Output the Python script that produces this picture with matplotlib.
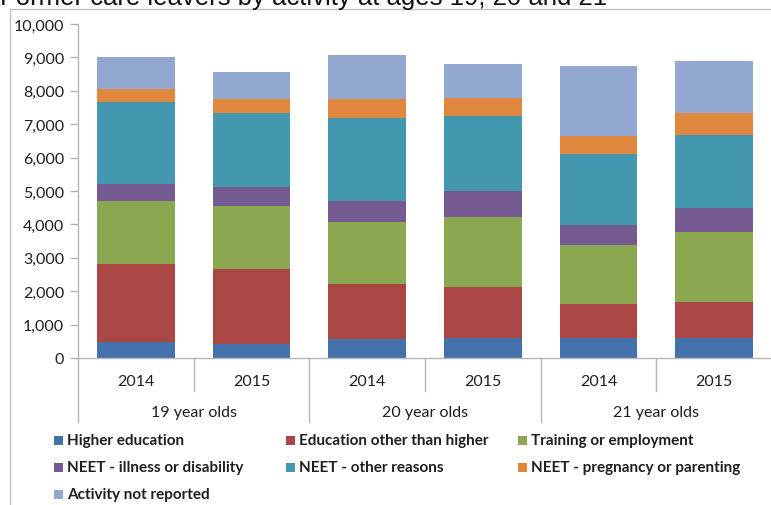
import matplotlib
matplotlib.use("Agg")
import matplotlib.pyplot as plt
import matplotlib.transforms as mtransforms
from matplotlib.patches import Rectangle
from matplotlib.lines import Line2D
import numpy as np

# bars: 19, 20, 21 year olds, 2014 and 2015 each
years = ["2014", "2015", "2014", "2015", "2014", "2015"]
groups = ["19 year olds", "20 year olds", "21 year olds"]

activities = ["Higher education", "Education other than higher", "Training or employment",
              "NEET - illness or disability", "NEET - other reasons",
              "NEET - pregnancy or parenting", "Activity not reported"]

higher_ed = [470, 430, 570, 600, 600, 600]
other_ed = [2340, 2220, 1640, 1520, 1030, 1070]
training = [1880, 1890, 1870, 2100, 1740, 2100]
neet_ill = [510, 570, 610, 780, 600, 730]
neet_other = [2460, 2220, 2500, 2260, 2140, 2190]
neet_preg = [380, 430, 560, 520, 550, 660]
not_reported = [960, 810, 1330, 1020, 2070, 1550]

series = [higher_ed, other_ed, training, neet_ill, neet_other, neet_preg, not_reported]
colors = ["#4471AA", "#AA4644", "#8BA750", "#745A91", "#4398B0", "#DF863F", "#92A8D0"]

W, H = 771, 506
fig = plt.figure(figsize=(W / 100, H / 100), dpi=100)
ax_l, ax_r, ax_top, ax_bot = 78, 772, 25, 359
ax = fig.add_axes([ax_l / W, 1 - ax_bot / H, (ax_r - ax_l) / W, (ax_bot - ax_top) / H])

x = np.arange(len(years))
bottom = np.zeros(len(years))
for vals, c in zip(series, colors):
    ax.bar(x, vals, width=0.67, bottom=bottom, color=c, linewidth=0)
    bottom += np.array(vals)

ax.set_xlim(-0.5, len(years) - 0.5)
ax.set_ylim(0, 10000)
ax.set_yticks(range(0, 10001, 1000))
ax.set_yticklabels([f"{v:,}" for v in range(0, 10001, 1000)])
ax.set_xticks([])

line_col = "#B5B5B5"
txt_col = "#1F1F1F"
for s in ["top", "right", "left"]:
    ax.spines[s].set_visible(False)
ax.spines["bottom"].set_color(line_col)
ax.spines["bottom"].set_linewidth(1)
ax.tick_params(axis="y", length=6, width=1, color=line_col, labelsize=11.5,
               labelcolor=txt_col, pad=4)
for lab in ax.get_yticklabels():
    lab.set_fontfamily("Lato")

# left axis line plus category separators below the axis
ax_h = ax_bot - ax_top
trans = mtransforms.blended_transform_factory(ax.transData, ax.transAxes)
ax.add_line(Line2D([-0.5, -0.5], [1, -64 / ax_h], transform=trans, color=line_col,
                   lw=1, clip_on=False))
for b in [0.5, 2.5, 4.5]:
    ax.add_line(Line2D([b, b], [0, -33 / ax_h], transform=trans, color=line_col,
                       lw=1, clip_on=False))
for b in [1.5, 3.5]:
    ax.add_line(Line2D([b, b], [0, -64 / ax_h], transform=trans, color=line_col,
                       lw=1, clip_on=False))

for xi, yr in zip(x, years):
    ax.text(xi, -23 / ax_h, yr, transform=trans, ha="center", va="center",
            fontsize=11.5, family="Lato", color=txt_col)
for gi, g in enumerate(groups):
    ax.text(2 * gi + 0.5, -54 / ax_h, g, transform=trans, ha="center", va="center",
            fontsize=11.5, family="Lato", color=txt_col)

# outer frame of the chart area
fig.add_artist(Line2D([10 / W, 1], [1 - 10 / H, 1 - 10 / H], transform=fig.transFigure,
                      color="#C0C0C0", lw=1))
fig.add_artist(Line2D([10 / W, 10 / W], [0, 1 - 10 / H], transform=fig.transFigure,
                      color="#C0C0C0", lw=1))

# title, cut off at the top edge
fig.text(0 / W, 1 - 4.5 / H, "Former care leavers by activity at ages 19, 20 and 21",
         ha="left", va="baseline", fontsize=18.5, family="Liberation Sans", color="#111111")

# legend, laid out row by row like the original
col_x = [54, 286, 518]
row_y = [441, 468, 495]
for i, (name, c) in enumerate(zip(activities, colors)):
    r, k = divmod(i, 3)
    sx, sy = col_x[k], row_y[r]
    fig.add_artist(Rectangle((sx / W, 1 - (sy + 4.5) / H), 9 / W, 9 / H,
                             transform=fig.transFigure, color=c, lw=0))
    fig.text((sx + 13) / W, 1 - sy / H, name, ha="left", va="center",
             fontsize=11, fontweight="bold", family="Lato", color=txt_col)

fig.savefig("out.png", dpi=100)
